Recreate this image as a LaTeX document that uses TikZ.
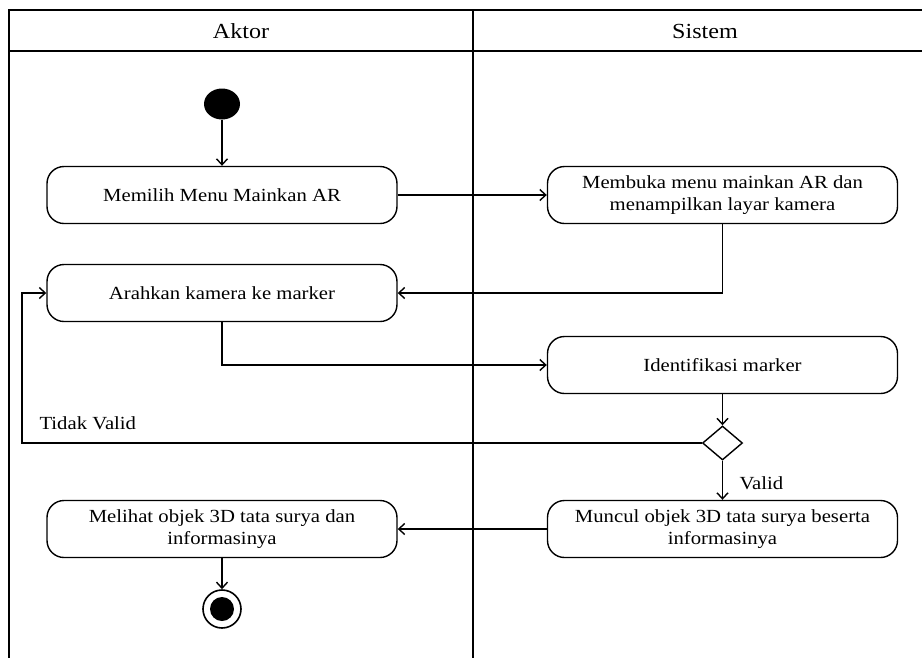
\documentclass[tikz,border=0pt]{standalone}
\usepackage{fontspec}
\setmainfont{Liberation Serif}[FakeStretch=1.12]
\usetikzlibrary{arrows.meta,shapes.geometric}
\begin{document}
\begin{tikzpicture}[x=1pt,y=-1pt,
  txt/.style={font=\fontsize{18.5}{22}\selectfont, text=black},
  act/.style={txt, draw, rounded corners=17pt, minimum width=350pt, minimum height=57pt, align=center, line width=1.4pt, inner sep=2pt},
  arr/.style={line width=1.4pt, -{Straight Barb[length=6pt,width=11pt,line width=1.4pt]}},
  lane/.style={line width=1.5pt}]
\useasboundingbox (0,0) rectangle (922,657);
\clip (0,0) rectangle (922,657);
% swimlane frame
\draw[lane] (9,680) -- (9,10) -- (945,10);
\draw[lane] (9,51) -- (945,51);
\draw[lane] (473,10) -- (473,680);
\node[font=\fontsize{21.5}{24}\selectfont] (hA) at (241,31) {Aktor};
\node[font=\fontsize{21.5}{24}\selectfont] (hS) at (705,31) {Sistem};
% nodes
\node[ellipse, fill=black, minimum width=36pt, minimum height=31pt, inner sep=0pt] (start) at (222,104) {};
\node[act] (b1) at (222,195) {Memilih Menu Mainkan AR};
\node[act] (b2) at (722.5,195) {Membuka menu mainkan AR dan\\menampilkan layar kamera};
\node[act] (b3) at (222,293) {Arahkan kamera ke marker};
\node[act] (b4) at (722.5,365) {Identifikasi marker};
\node[diamond, draw, line width=1.4pt, minimum width=40pt, minimum height=34pt, inner sep=0pt] (dec) at (722.5,443) {};
\node[act] (b5) at (722.5,529) {Muncul objek 3D tata surya beserta\\informasinya};
\node[act] (b6) at (222,529) {Melihat objek 3D tata surya dan\\informasinya};
\node[ellipse, draw, line width=1.6pt, minimum width=38pt, minimum height=38pt, inner sep=0pt] (end) at (222,609) {};
\node[circle, fill=black, minimum size=24pt, inner sep=0pt] (endin) at (end.center) {};
\coordinate (lp) at (22,443);
% connectors
\draw[arr] (start) -- (b1);
\draw[arr] (b1) -- (b2);
\draw[arr] (b2.south) |- (b3.east);
\draw[arr] (b3.south) |- (b4.west);
\draw[arr] (b4) -- (dec);
\draw[arr] (dec.west) -- (lp) |- (b3.west);
\draw[arr] (dec) -- (b5);
\draw[arr] (b5) -- (b6);
\draw[arr] (b6) -- (end);
% labels
\node[txt, anchor=west] (lt) at (36,423) {Tidak Valid};
\node[txt, anchor=west] (lv) at (736,483) {Valid};
\end{tikzpicture}
\end{document}
